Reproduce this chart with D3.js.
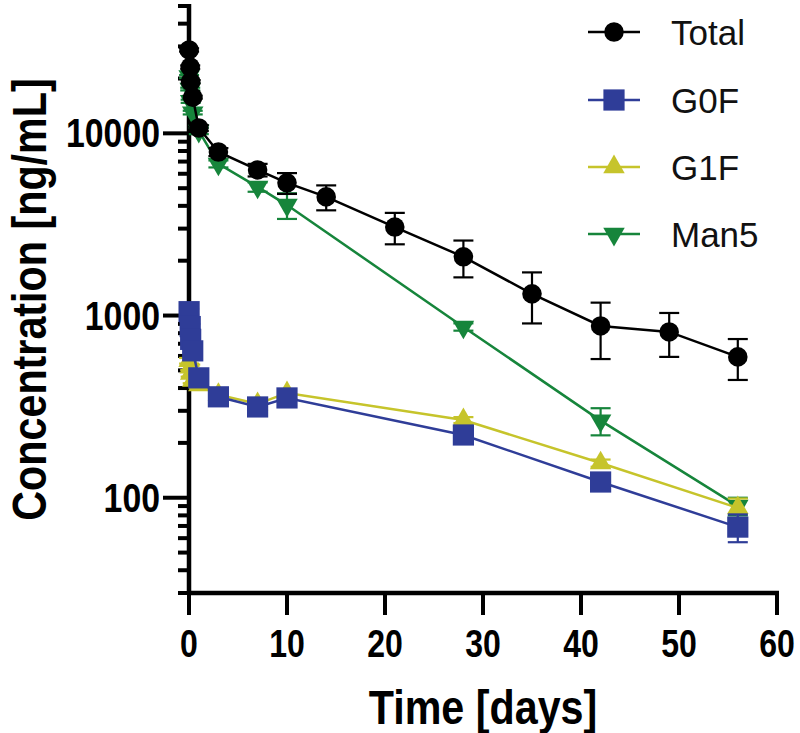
<!DOCTYPE html>
<html><head><meta charset="utf-8">
<script src="https://cdn.jsdelivr.net/npm/d3@7"></script>
<style>body{margin:0;background:#fff}svg{display:block}</style>
</head><body>
<svg id="chart" width="800" height="733"></svg>
<script>
// ---- data ----
const seriesNames = ["Total", "G0F", "G1F", "Man5"];
const totalTime = [0.01, 0.125, 0.17, 0.38, 1, 3, 7, 10, 14, 21, 28, 35, 42, 49, 56];
const totalMean = [28700, 23100, 19200, 15800, 10700, 7900, 6300, 5350, 4480, 3060, 2100, 1315, 877, 813, 593];
const totalSD   = [600, 500, 400, 300, 400, 400, 500, 700, 700, 600, 480, 410, 300, 220, 150];
const glycTime  = [0.01, 0.125, 0.17, 0.38, 1, 3, 7, 10, 28, 42, 56];
const g0fMean   = [1050, 870, 740, 640, 455, 358, 315, 353, 221, 122, 69];
const g0fSD     = [40, 30, 25, 20, 20, 15, 15, 18, 12, 8, 12];
const g1fMean   = [565, 520, 480, 440, 416, 368, 327, 376, 267, 155, 88];
const g1fSD     = [20, 18, 18, 15, 15, 12, 12, 15, 10, 7, 11];
const man5Mean  = [20500, 17500, 15000, 13000, 10300, 6800, 5080, 4040, 866, 265, 90];
const man5SD    = [400, 300, 300, 300, 400, 300, 300, 650, 40, 45, 10];
const xTicks = [0, 10, 20, 30, 40, 50, 60];
const yTicks = [100, 1000, 10000];

const colors = {Total: "#000000", G0F: "#2f3d98", G1F: "#c6c42b", Man5: "#16853b"};
const symbols = {Total: d3.symbolCircle, G0F: d3.symbolSquare, G1F: d3.symbolTriangle, Man5: d3.symbolTriangle};

const svg = d3.select("#chart");
const x = d3.scaleLinear().domain([0, 60]).range([189, 777]);
const y = d3.scaleLog().domain([30, 50000]).range([593, 6]);

const boldFont = "'Liberation Sans',Arial,sans-serif";
const tickNarrow = 0.89, titleNarrow = 0.86;

// minor y ticks
const minor = [];
for (let p = 1; p <= 4; p++) for (let m = 1; m <= 9; m++) {
  const v = m * Math.pow(10, p);
  if (v >= 30 && v <= 50000 && !yTicks.includes(v)) minor.push(v);
}
const gy = svg.append("g");
gy.selectAll("line.minor").data(minor).join("line")
  .attr("x1", x(0) - 11).attr("x2", x(0)).attr("y1", d => y(d)).attr("y2", d => y(d))
  .attr("stroke", "#000").attr("stroke-width", 4);
gy.selectAll("line.major").data(yTicks).join("line")
  .attr("x1", x(0) - 26).attr("x2", x(0)).attr("y1", d => y(d)).attr("y2", d => y(d))
  .attr("stroke", "#000").attr("stroke-width", 4);
gy.append("line").attr("x1", x(0)).attr("x2", x(0)).attr("y1", y(50000) - 2).attr("y2", y(30) + 2)
  .attr("stroke", "#000").attr("stroke-width", 4.5);
gy.selectAll("text").data(yTicks).join("text")
  .attr("transform", d => `translate(160,${y(d) + 14}) scale(${tickNarrow},1.08)`).attr("text-anchor", "end")
  .attr("font-family", boldFont).attr("font-weight", "bold").attr("font-size", 38)
  .text(d => d3.format("d")(d));

// x axis
const gx = svg.append("g");
gx.append("line").attr("x1", x(0) - 2).attr("x2", x(60) + 2).attr("y1", 593).attr("y2", 593)
  .attr("stroke", "#000").attr("stroke-width", 4.5);
gx.selectAll("line.t").data(xTicks).join("line").attr("class", "t")
  .attr("x1", d => x(d)).attr("x2", d => x(d)).attr("y1", 593).attr("y2", 615)
  .attr("stroke", "#000").attr("stroke-width", 4);
gx.selectAll("text").data(xTicks).join("text")
  .attr("transform", d => `translate(${x(d)},657) scale(${tickNarrow},1.08)`).attr("text-anchor", "middle")
  .attr("font-family", boldFont).attr("font-weight", "bold").attr("font-size", 36)
  .text(d => d);

// axis titles
svg.append("text").attr("transform", `translate(${(x(0) + x(60)) / 2},724) scale(${titleNarrow},1)`)
  .attr("text-anchor", "middle")
  .attr("font-family", boldFont).attr("font-weight", "bold").attr("font-size", 48)
  .text("Time [days]");
svg.append("text").attr("transform", `translate(46,${(y(50000) + y(30)) / 2}) rotate(-90) scale(${titleNarrow},1)`)
  .attr("text-anchor", "middle")
  .attr("font-family", boldFont).attr("font-weight", "bold").attr("font-size", 48)
  .text("Concentration [ng/mL]");

// series
const series = [
  {name: "Man5", t: glycTime, m: man5Mean, s: man5SD, size: 200, rot: 180},
  {name: "G1F", t: glycTime, m: g1fMean, s: g1fSD, size: 200, rot: 0},
  {name: "G0F", t: glycTime, m: g0fMean, s: g0fSD, size: 450, rot: 0},
  {name: "Total", t: totalTime, m: totalMean, s: totalSD, size: 300, rot: 0}
];
const line = d3.line().x(d => x(d.t)).y(d => y(d.m));
series.forEach(S => {
  const pts = S.t.map((t, i) => ({t, m: S.m[i], s: S.s[i]}));
  const g = svg.append("g");
  const c = colors[S.name];
  pts.forEach(p => {
    const y1 = y(p.m + p.s), y2 = y(Math.max(p.m - p.s, 1));
    g.append("line").attr("x1", x(p.t)).attr("x2", x(p.t)).attr("y1", y1).attr("y2", y2)
      .attr("stroke", c).attr("stroke-width", 2.2);
    [y1, y2].forEach(yy => g.append("line").attr("x1", x(p.t) - 10).attr("x2", x(p.t) + 10)
      .attr("y1", yy).attr("y2", yy).attr("stroke", c).attr("stroke-width", 2.2));
  });
  g.append("path").datum(pts).attr("d", line).attr("fill", "none")
    .attr("stroke", c).attr("stroke-width", 2.5);
  g.selectAll("path.pt").data(pts).join("path").attr("class", "pt")
    .attr("d", d3.symbol().type(symbols[S.name]).size(S.size))
    .attr("transform", d => `translate(${x(d.t)},${y(d.m)}) rotate(${S.rot})`)
    .attr("fill", c);
});

// legend
const legY = [32, 100, 167, 234];
const leg = svg.append("g");
seriesNames.forEach((n, i) => {
  const c = colors[n];
  leg.append("line").attr("x1", 588).attr("x2", 640).attr("y1", legY[i]).attr("y2", legY[i])
    .attr("stroke", c).attr("stroke-width", 2.5);
  const S = series.find(s => s.name === n);
  leg.append("path").attr("d", d3.symbol().type(symbols[n]).size(S.size)())
    .attr("transform", `translate(614,${legY[i]}) rotate(${S.rot})`).attr("fill", c);
  leg.append("text").attr("x", 671).attr("y", legY[i] + 13)
    .attr("font-family", "'Liberation Sans',Arial,sans-serif").attr("font-size", 35)
    .attr("fill", "#111").text(n);
});
</script>
</body></html>
